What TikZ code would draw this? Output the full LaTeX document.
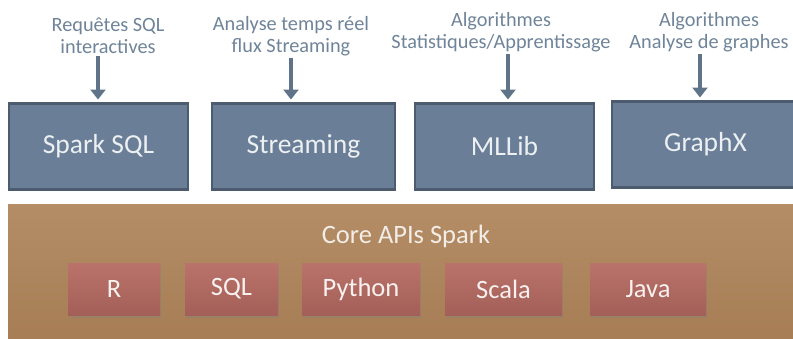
\documentclass[tikz,border=0pt]{standalone}
\usepackage{fontspec}
\setmainfont{Carlito}
\usetikzlibrary{
  positioning,
  arrows.meta,
  shadows
}

\definecolor{slatefill}{HTML}{6A7F97}
\definecolor{slateline}{HTML}{4C5C6E}
\definecolor{notegrey}{HTML}{6F8499}
\definecolor{arrowgrey}{HTML}{5F7489}
\definecolor{corebrown}{HTML}{B0875E}
\definecolor{corebrowndark}{HTML}{A67D55}
\definecolor{langtop}{HTML}{BA736A}
\definecolor{langbottom}{HTML}{A35F58}

\begin{document}
\begin{tikzpicture}[
  x=1pt, y=1pt,
  module/.style={draw=slateline, line width=2.5pt, fill=slatefill, minimum width=179pt, minimum height=86pt, outer sep=0pt, text=white!88!slatefill, font=\fontsize{27.5}{30}\selectfont},
  note/.style={align=center, inner sep=2pt, text=notegrey, font=\fontsize{20.3}{22}\selectfont},
  corebox/.style={top color=corebrown!95!white, bottom color=corebrowndark, minimum width=800pt, minimum height=140pt, anchor=north west, outer sep=0pt},
  lang/.style={top color=langtop, bottom color=langbottom, minimum height=52pt, outer sep=0pt, text=white!90!langtop, font=\fontsize{26.5}{30}\selectfont, drop shadow={shadow xshift=1pt, shadow yshift=-3pt, opacity=0.35}},
  arrow/.style={line width=4pt, draw=arrowgrey, -{Triangle[length=10pt, width=15pt]}, shorten >=4pt}
]
\path[use as bounding box, clip] (0,0) rectangle (793,-338);

% Modules
\node[module] (sparksql) at (98.5,-146.5) {Spark SQL};
\node[module, right=24pt of sparksql, minimum width=183pt] (streaming) {Streaming};
\node[module, right=20pt of streaming] (mllib) {MLLib};
\node[module, right=18pt of mllib, yshift=2pt, minimum width=187pt] (graphx) {GraphX};

% Notes
\node[note] (sqlnote) at (108,-36) {Requêtes SQL\\interactives};
\node[note] (streamnote) at (291,-36) {Analyse temps réel\\flux Streaming};
\node[note] (mlnote) at (501,-32) {Algorithmes\\Statistiques/Apprentissage};
\node[note] (graphnote) at (709,-32) {Algorithmes\\Analyse de graphes};

% Arrows
\draw[arrow] ([xshift=-10pt]sqlnote.south) -- ([xshift=-10pt]sqlnote.south |- sparksql.north);
\draw[arrow] (streamnote.south) -- (streamnote.south |- streaming.north);
\draw[arrow] ([xshift=7pt]mlnote.south) -- ([xshift=7pt]mlnote.south |- mllib.north);
\draw[arrow] ([xshift=-9pt]graphnote.south) -- ([xshift=-9pt]graphnote.south |- graphx.north);

% Core
\node[corebox] (core) at (8,-204) {};
\node[text=white!85!corebrown, font=\fontsize{26.5}{30}\selectfont] (coretitle) at (406,-236) {Core APIs Spark};

% Languages
\node[lang, minimum width=92pt] (r) at (114,-289) {R};
\node[lang, minimum width=93pt, right=25pt of r] (sql) {SQL};
\node[lang, minimum width=118pt, right=24pt of sql] (python) {Python};
\node[lang, minimum width=117pt, right=25pt of python] (scala) {Scala};
\node[lang, minimum width=116pt, right=28pt of scala] (java) {Java};

\end{tikzpicture}
\end{document}
